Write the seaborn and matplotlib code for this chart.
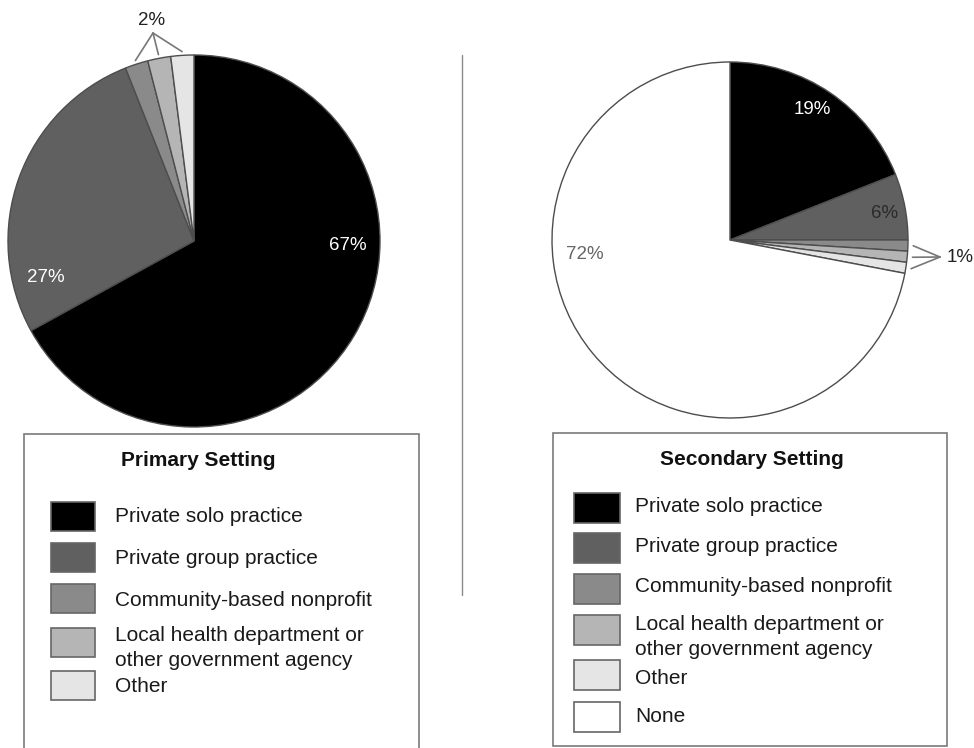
import numpy as np
import matplotlib
matplotlib.use("Agg")
import matplotlib.pyplot as plt
from matplotlib.patches import Rectangle
import seaborn as sns

# 数据
# ----------------------------
categories = ["Private solo practice", "Private group practice", "Community-based nonprofit",
              "Local health department or\nother government agency", "Other", "None"]
primary_pct = [67, 27, 2, 2, 2]
secondary_pct = [19, 6, 1, 1, 1, 72]
panel_titles = ["Primary Setting", "Secondary Setting"]

# 样式
# ----------------------------
sns.set_theme(style="white")
plt.rcParams['font.family'] = ['Liberation Sans', 'DejaVu Sans']
grays = sns.color_palette(["#000000", "#606060", "#8a8a8a", "#b5b5b5", "#e5e5e5", "#ffffff"])
EDGE = "#4d4d4d"
W, H = 974, 748


def Y(y):
    """像素坐标(自上而下) -> 轴坐标"""
    return H - y


fig = plt.figure(figsize=(W / 100, H / 100), dpi=100)
ax = fig.add_axes([0, 0, 1, 1])

# 饼图
# ----------------------------
wp = dict(edgecolor=EDGE, linewidth=1)
w_left, _ = ax.pie(primary_pct, colors=grays[:5], startangle=90, counterclock=False,
                   center=(194, Y(241)), radius=186, wedgeprops=wp)
w_right, _ = ax.pie(secondary_pct, colors=grays[:6], startangle=90, counterclock=False,
                    center=(730, Y(240)), radius=178, wedgeprops=wp)

lbl = dict(fontsize=13.5, ha="center", va="center")
ax.text(348, Y(245), f"{primary_pct[0]}%", color="white", **lbl)
ax.text(46, Y(277), f"{primary_pct[1]}%", color="white", **lbl)
ax.text(152, Y(20), f"{primary_pct[2]}%", color="#222222", **lbl)
ax.text(812, Y(109), f"{secondary_pct[0]}%", color="white", **lbl)
ax.text(885, Y(213), f"{secondary_pct[1]}%", color="#2a2a2a", **lbl)
ax.text(585, Y(254), f"{secondary_pct[5]}%", color="#666666", **lbl)
ax.text(960, Y(257), f"{secondary_pct[2]}%", color="#222222", **lbl)


def edge_pt(w, f):
    a = np.deg2rad((w.theta1 + w.theta2) / 2)
    return w.center[0] + w.r * f * np.cos(a), w.center[1] + w.r * f * np.sin(a)


# 小扇区引线
for wedges, hub, f in [(w_left[2:5], (153, Y(33)), 1.02), (w_right[2:5], (940, Y(257)), 1.03)]:
    for w in wedges:
        x, y = edge_pt(w, f)
        ax.plot([hub[0], x], [hub[1], y], color="#777777", lw=1.2, solid_capstyle="round")

# 分隔线
ax.plot([462, 462], [Y(55), Y(595)], color="#8a8a8a", lw=1)

# 图例
# ----------------------------
legend_cfg = [
    dict(box=(24, 434, 419, 770), title=(198, 460), px=51, pw=44, ph=29, tx=115,
         tops=[502, 543, 584, 628, 671], ty=[517, 558, 601, 648, 686], n=5),
    dict(box=(553, 433, 947, 746), title=(752, 459), px=574, pw=46, ph=30, tx=635,
         tops=[493, 533, 574, 615, 660, 702], ty=[507, 547, 587, 637, 679, 717], n=6),
]
for cfg, title in zip(legend_cfg, panel_titles):
    x0, y0, x1, y1 = cfg["box"]
    ax.add_patch(Rectangle((x0, Y(y1)), x1 - x0, y1 - y0, facecolor="white",
                           edgecolor="#7a7a7a", lw=1.2, zorder=1))
    ax.text(cfg["title"][0], Y(cfg["title"][1]), title, fontsize=15, fontweight="bold",
            ha="center", va="center", color="#111111")
    for i in range(cfg["n"]):
        top = cfg["tops"][i]
        ax.add_patch(Rectangle((cfg["px"], Y(top + cfg["ph"])), cfg["pw"], cfg["ph"],
                               facecolor=grays[i], edgecolor="#666666", lw=1.2, zorder=2))
        ax.text(cfg["tx"], Y(cfg["ty"][i]), categories[i], fontsize=15, ha="left",
                va="center", color="#1a1a1a", linespacing=1.35)

ax.set_xlim(0, W)
ax.set_ylim(0, H)
ax.set_aspect("equal")
ax.axis("off")

fig.savefig("out.png", dpi=100)
plt.close(fig)
